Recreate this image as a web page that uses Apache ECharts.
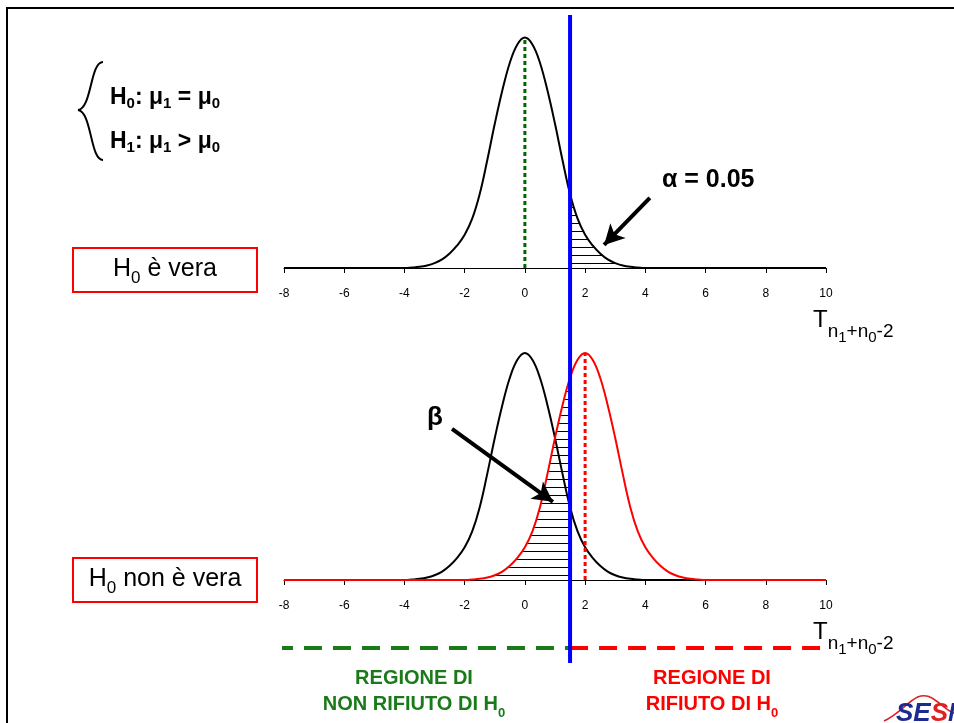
<!DOCTYPE html>
<html>
<head>
<meta charset="utf-8">
<script src="https://cdn.jsdelivr.net/npm/echarts@6/dist/echarts.min.js"></script>
<style>
html, body { margin: 0; padding: 0; background: #fff; }
#chart { width: 954px; height: 723px; }
</style>
</head>
<body>
<div id="chart"></div>
<script>
// values
var xMin = -8, xMax = 10, xStep = 2;
var tCrit = 1.5;
var h0Mean = 0, h1Mean = 2, peak = 0.43;

// H0 curve (black), density read at each x
var h0X = [-4, -3.75, -3.5, -3.25, -3, -2.75, -2.5, -2.25, -2, -1.75, -1.5, -1.25, -1, -0.75, -0.5, -0.25, 0,
           0.25, 0.5, 0.75, 1, 1.25, 1.5, 1.75, 2, 2.25, 2.5, 2.75, 3, 3.25, 3.5, 3.75, 4];
var h0Y = [0, 0.0009, 0.0022, 0.0047, 0.009, 0.016, 0.027, 0.042, 0.062, 0.092, 0.138, 0.201, 0.269, 0.331, 0.383, 0.417, 0.430,
           0.417, 0.383, 0.331, 0.269, 0.201, 0.138, 0.092, 0.062, 0.042, 0.027, 0.016, 0.009, 0.0047, 0.0022, 0.0009, 0];

// H1 curve (red)
var h1X = [-2, -1.75, -1.5, -1.25, -1, -0.75, -0.5, -0.25, 0, 0.25, 0.5, 0.75, 1, 1.25, 1.5, 1.75, 2,
           2.25, 2.5, 2.75, 3, 3.25, 3.5, 3.75, 4, 4.25, 4.5, 4.75, 5, 5.25, 5.5, 5.75, 6];
var h1Y = [0, 0.0009, 0.0022, 0.0047, 0.009, 0.016, 0.027, 0.042, 0.062, 0.092, 0.138, 0.201, 0.269, 0.331, 0.383, 0.417, 0.430,
           0.417, 0.383, 0.331, 0.269, 0.201, 0.138, 0.092, 0.062, 0.042, 0.027, 0.016, 0.009, 0.0047, 0.0022, 0.0009, 0];

// annotation anchors (data units)
var alphaArrow = [[4.15, 0.131], [2.63, 0.043]];
var betaArrow = [[-2.42, 0.286], [0.93, 0.148]];
var regionLeft = -8.3, regionRight = 10.3;

var FONT = '"Liberation Sans", Arial, sans-serif';
var regionLevel = 0.023;

function pts(xs, ys, keep) {
    var out = [];
    for (var i = 0; i < xs.length; i++) {
        if (!keep || keep(xs[i])) out.push([xs[i], ys[i]]);
    }
    return out;
}
function fullCurve(xs, ys) {
    return [[xMin, 0]].concat(pts(xs, ys)).concat([[xMax, 0]]);
}

// horizontal hatch texture
var hatch = document.createElement('canvas');
hatch.width = 8; hatch.height = 8;
var hctx = hatch.getContext('2d');
hctx.fillStyle = '#000';
hctx.fillRect(0, 7, 8, 1);

function xAxisFor(grid, show) {
    return {
        type: 'value', gridIndex: grid, min: xMin, max: xMax, interval: xStep,
        show: show,
        axisLine: { show: true, onZero: false, lineStyle: { color: '#000', width: 1 } },
        axisTick: { show: true, length: 5, lineStyle: { color: '#000' } },
        axisLabel: { color: '#000', fontSize: 12, fontFamily: FONT, margin: 20 },
        splitLine: { show: false }
    };
}
function yAxisFor(grid, max) {
    return { type: 'value', gridIndex: grid, min: 0, max: max, show: false, splitLine: { show: false } };
}

function arrowLine(a) {
    return {
        silent: true, animation: false,
        symbol: ['none', 'arrow'], symbolSize: [16, 20],
        lineStyle: { color: '#000', width: 4, type: 'solid' },
        label: { show: false },
        data: [[{ coord: a[0] }, { coord: a[1] }]]
    };
}

var tLabel = '{t|T}{s|n}{ss|1}{s|+n}{ss|0}{s|-2}';
var tRich = {
    t: { fontSize: 24, fontFamily: FONT, verticalAlign: 'top', lineHeight: 24 },
    s: { fontSize: 19, fontFamily: FONT, verticalAlign: 'top', padding: [14, 0, 0, 0], lineHeight: 19 },
    ss: { fontSize: 15, fontFamily: FONT, verticalAlign: 'top', padding: [22, 0, 0, 0], lineHeight: 15 }
};
var hypRich = {
    b: { fontSize: 23, fontWeight: 'bold', fontFamily: FONT, verticalAlign: 'top', lineHeight: 23 },
    s: { fontSize: 15, fontWeight: 'bold', fontFamily: FONT, verticalAlign: 'top', padding: [10, 0, 0, 0], lineHeight: 15 }
};
var boxRich = {
    b: { fontSize: 25, fontFamily: FONT, verticalAlign: 'top', lineHeight: 25 },
    s: { fontSize: 17, fontFamily: FONT, verticalAlign: 'top', padding: [13, 0, 0, 0], lineHeight: 17 }
};
function regionRich(color) {
    return {
        b: { fontSize: 20, fontWeight: 'bold', fontFamily: FONT, fill: color, verticalAlign: 'top', lineHeight: 26 },
        s: { fontSize: 13, fontWeight: 'bold', fontFamily: FONT, fill: color, verticalAlign: 'top', padding: [13, 0, 0, 0], lineHeight: 13 }
    };
}

var chart = echarts.init(document.getElementById('chart'));
chart.setOption({
    animation: false,
    backgroundColor: '#fff',
    grid: [
        { left: 284, width: 542, top: 0, height: 268 },
        { left: 284, width: 542, top: 316, height: 264 },
        { left: 284, width: 542, top: 15, height: 648 }
    ],
    xAxis: [xAxisFor(0, true), xAxisFor(1, true), xAxisFor(2, false)],
    yAxis: [yAxisFor(0, 0.5), yAxisFor(1, 0.5), yAxisFor(2, 1)],
    series: [
        {   // alpha area
            type: 'line', xAxisIndex: 0, yAxisIndex: 0, smooth: 0.4, symbol: 'none',
            data: pts(h0X, h0Y, function (x) { return x >= tCrit; }),
            lineStyle: { width: 0 },
            areaStyle: { color: { image: hatch, repeat: 'repeat' }, opacity: 1 }
        },
        {
            type: 'line', xAxisIndex: 0, yAxisIndex: 0, smooth: 0.4, symbol: 'none',
            data: fullCurve(h0X, h0Y),
            lineStyle: { color: '#000', width: 2 },
            markLine: arrowLine(alphaArrow)
        },
        {
            type: 'line', xAxisIndex: 0, yAxisIndex: 0, symbol: 'none',
            data: [[h0Mean, 0], [h0Mean, peak]],
            lineStyle: { color: '#006600', width: 3, type: [4, 3] }
        },
        {   // beta area
            type: 'line', xAxisIndex: 1, yAxisIndex: 1, smooth: 0.4, symbol: 'none',
            data: pts(h1X, h1Y, function (x) { return x <= tCrit; }),
            lineStyle: { width: 0 },
            areaStyle: { color: { image: hatch, repeat: 'repeat' }, opacity: 1 }
        },
        {
            type: 'line', xAxisIndex: 1, yAxisIndex: 1, smooth: 0.4, symbol: 'none',
            data: fullCurve(h0X, h0Y),
            lineStyle: { color: '#000', width: 2 },
            markLine: arrowLine(betaArrow)
        },
        {
            type: 'line', xAxisIndex: 1, yAxisIndex: 1, smooth: 0.4, symbol: 'none',
            data: fullCurve(h1X, h1Y),
            lineStyle: { color: '#ff0000', width: 2 }
        },
        {
            type: 'line', xAxisIndex: 1, yAxisIndex: 1, symbol: 'none',
            data: [[h1Mean, 0], [h1Mean, peak]],
            lineStyle: { color: '#ff0000', width: 3, type: [4, 3] }
        },
        {
            type: 'line', xAxisIndex: 2, yAxisIndex: 2, symbol: 'none', clip: false,
            data: [[regionLeft, regionLevel], [tCrit, regionLevel]],
            lineStyle: { color: '#1a7a1a', width: 4, type: [18, 11] }
        },
        {
            type: 'line', xAxisIndex: 2, yAxisIndex: 2, symbol: 'none', clip: false,
            data: [[tCrit, regionLevel], [regionRight, regionLevel]],
            lineStyle: { color: '#ff0000', width: 4, type: [18, 11] }
        },
        {   // critical value
            type: 'line', xAxisIndex: 2, yAxisIndex: 2, symbol: 'none', z: 5,
            data: [[tCrit, 0], [tCrit, 1]],
            lineStyle: { color: '#0000ff', width: 4 }
        }
    ],
    graphic: [
        { type: 'rect', shape: { x: 7, y: 8, width: 1000, height: 1000 }, style: { fill: 'none', stroke: '#000', lineWidth: 2 }, z: -1 },
        // hypotheses
        { type: 'bezierCurve', shape: { x1: 103, y1: 62, cpx1: 90, cpy1: 62, cpx2: 92, cpy2: 108, x2: 78, y2: 110 }, style: { stroke: '#000', lineWidth: 2, fill: 'none' } },
        { type: 'bezierCurve', shape: { x1: 78, y1: 110, cpx1: 92, cpy1: 112, cpx2: 90, cpy2: 160, x2: 103, y2: 160 }, style: { stroke: '#000', lineWidth: 2, fill: 'none' } },
        { type: 'text', style: { x: 110, y: 86, text: '{b|H}{s|0}{b|: μ}{s|1}{b| = μ}{s|0}', rich: hypRich, fill: '#000' } },
        { type: 'text', style: { x: 110, y: 130, text: '{b|H}{s|1}{b|: μ}{s|1}{b| > μ}{s|0}', rich: hypRich, fill: '#000' } },
        // boxes
        { type: 'rect', shape: { x: 73, y: 248, width: 184, height: 44 }, style: { fill: 'none', stroke: '#ff0000', lineWidth: 2 } },
        { type: 'text', style: { x: 165, y: 257, align: 'center', text: '{b|H}{s|0}{b| è vera}', rich: boxRich, fill: '#000' } },
        { type: 'rect', shape: { x: 73, y: 558, width: 184, height: 44 }, style: { fill: 'none', stroke: '#ff0000', lineWidth: 2 } },
        { type: 'text', style: { x: 165, y: 567, align: 'center', text: '{b|H}{s|0}{b| non è vera}', rich: boxRich, fill: '#000' } },
        // axis titles
        { type: 'text', style: { x: 813, y: 308, text: tLabel, rich: tRich, fill: '#000' } },
        { type: 'text', style: { x: 813, y: 620, text: tLabel, rich: tRich, fill: '#000' } },
        // alpha / beta
        { type: 'text', style: { x: 662, y: 168, text: 'α = 0.05', font: 'bold 25px ' + FONT, fill: '#000' } },
        { type: 'text', style: { x: 427, y: 405, text: 'β', font: 'bold 26px ' + FONT, fill: '#000' } },
        // regions
        { type: 'text', style: { x: 414, y: 668, align: 'center', text: '{b|REGIONE DI}\n{b|NON RIFIUTO DI H}{s|0}', rich: regionRich('#1a7a1a') } },
        { type: 'text', style: { x: 712, y: 668, align: 'center', text: '{b|REGIONE DI}\n{b|RIFIUTO DI H}{s|0}', rich: regionRich('#ff0000') } },
        // logo
        { type: 'bezierCurve', shape: { x1: 884, y1: 721, cpx1: 905, cpy1: 712, cpx2: 915, cpy2: 688, x2: 932, y2: 698 }, style: { stroke: '#e02020', lineWidth: 1.5, fill: 'none' } },
        { type: 'bezierCurve', shape: { x1: 932, y1: 698, cpx1: 942, cpy1: 704, cpx2: 948, cpy2: 712, x2: 956, y2: 714 }, style: { stroke: '#e02020', lineWidth: 1.5, fill: 'none' } },
        { type: 'text', style: { x: 896, y: 701, text: '{b|SE}{r|S}{b|M}', rich: {
            b: { fontSize: 26, fontWeight: 'bold', fontStyle: 'italic', fontFamily: FONT, fill: '#1b2b8f' },
            r: { fontSize: 26, fontWeight: 'bold', fontStyle: 'italic', fontFamily: FONT, fill: '#e02020' } } } }
    ]
});
</script>
</body>
</html>
